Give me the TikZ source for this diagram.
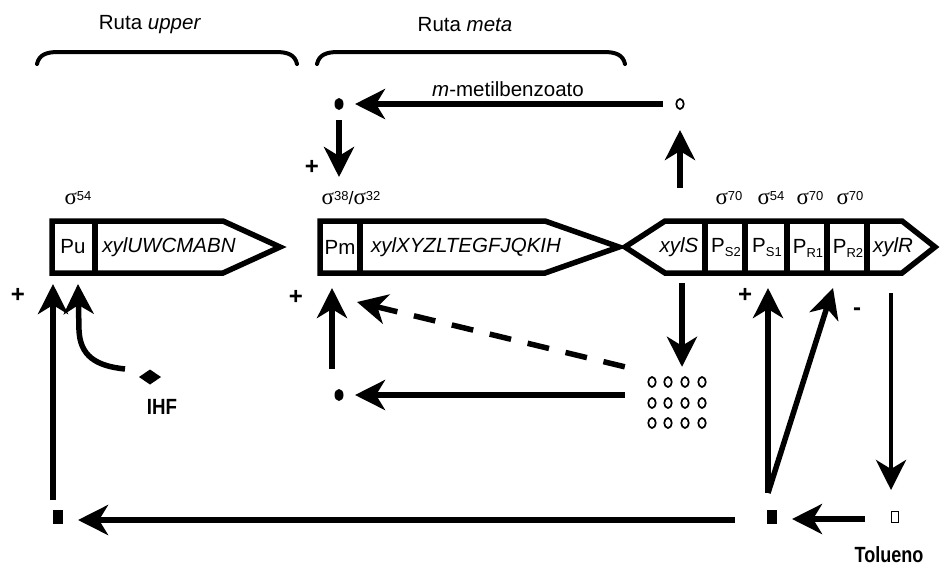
\documentclass[tikz,border=0pt]{standalone}
\usepackage{fontspec}
\setmainfont{Liberation Sans}
\newfontfamily\sigfont{Liberation Serif}
\usetikzlibrary{arrows.meta,calc,shapes.geometric}
\newcommand{\sigm}[1]{{\sigfont\fontsize{23}{23}\selectfont σ}\raisebox{4pt}{\fontsize{13}{13}\selectfont #1}}
\newcommand{\Psub}[1]{P\raisebox{-4pt}{\fontsize{13}{13}\selectfont #1}}
\begin{document}
\begin{tikzpicture}[x=1pt,y=-1pt,
  lbl/.style={inner sep=0pt, font=\fontsize{20.5}{24}\selectfont},
  sig/.style={inner sep=0pt, font=\fontsize{18}{20}\selectfont},
  sgn/.style={inner sep=0pt, font=\bfseries\fontsize{24}{24}\selectfont},
  bold/.style={inner sep=0pt, font=\bfseries\fontsize{22}{24}\selectfont},
  genebox/.style={line width=5.5pt, line join=miter},
  brace/.style={line width=4pt, line cap=round},
  arr/.style={line width=5.5pt, -{Stealth[length=30pt,width=30pt,inset=9pt]}},
  molfill/.style={ellipse, fill, inner sep=0pt, minimum width=9pt, minimum height=12pt},
  molopen/.style={ellipse, draw, line width=1.7pt, inner sep=0pt, minimum width=7.5pt, minimum height=10pt},
  sqfill/.style={fill, inner sep=0pt, minimum width=10pt, minimum height=14pt},
  sqopen/.style={draw, line width=1.7pt, inner sep=0pt, minimum width=7pt, minimum height=11pt}]
\useasboundingbox (0,0) rectangle (941,571);

% braces
\draw[brace] (37,64) .. controls (39,55) and (46,52) .. (58,52) -- (276,52) .. controls (288,52) and (295,55) .. (297,64);
\draw[brace] (317,64) .. controls (319,55) and (326,52) .. (338,52) -- (604,52) .. controls (616,52) and (623,55) .. (625,64);
\node[lbl] (rup) at (150,25) {Ruta \textit{upper}};
\node[lbl] (rmeta) at (465,25) {Ruta \textit{meta}};
\node[lbl] (mmb) at (508,89) {\textit{m}-metilbenzoato};

% gene boxes
\draw[genebox] (52,221) -- (223,221) -- (280,247) -- (223,273) -- (52,273) -- cycle;
\draw[genebox] (95,221) -- (95,273);
\draw[genebox] (320,221) -- (545,221) -- (619,247) -- (545,273) -- (320,273) -- cycle;
\draw[genebox] (360,221) -- (360,273);
\draw[genebox] (625,247) -- (665,221) -- (902,221) -- (935,247) -- (902,273) -- (665,273) -- cycle;
\foreach \xx in {705,745,787,827,867} \draw[genebox] (\xx,221) -- (\xx,273);

\node[lbl] (pu) at (73,247) {Pu};
\node[lbl] (upper) at (169,247) {\textit{xylUWCMABN}};
\node[lbl] (pm) at (340,247) {Pm};
\node[lbl] (meta) at (466,247) {\textit{xylXYZLTEGFJQKIH}};
\node[lbl] (xyls) at (679,247) {\textit{xylS}};
\node[lbl] (ps2) at (726,248) {\Psub{S2}};
\node[lbl] (ps1) at (767,248) {\Psub{S1}};
\node[lbl] (pr1) at (808,248) {\Psub{R1}};
\node[lbl] (pr2) at (848,248) {\Psub{R2}};
\node[lbl] (xylr) at (893,247) {\textit{xylR}};

% sigma labels
\node[sig] (s54a) at (78,198) {\sigm{54}};
\node[sig] (s38) at (351,198) {\sigm{38}/\sigm{32}};
\node[sig] (s70a) at (729,198) {\sigm{70}};
\node[sig] (s54b) at (771,198) {\sigm{54}};
\node[sig] (s70b) at (810,198) {\sigm{70}};
\node[sig] (s70c) at (850,198) {\sigm{70}};

% signs
\node[sgn] (p1) at (18,295) {+};
\node[sgn] (p2) at (296,297) {+};
\node[sgn] (p3) at (312,167) {+};
\node[sgn] (p4) at (745,295) {+};
\node[sgn] (m1) at (857,312) {-};

% molecules
\node[molfill] (d1) at (339,104) {};
\node[molopen] (o1) at (680,104) {};
\node[molfill] (d2) at (339,395) {};
\foreach \yy in {382,403,423} {
  \foreach \xx in {652,668,685,702} {
    \node[molopen] at (\xx,\yy) {};
  }
}
\node[inner sep=0pt, minimum width=104pt, minimum height=72pt] (grid) at (677,403) {};
\fill (139,377) -- (150,369.5) -- (161,377) -- (150,384.5) -- cycle;
\node[inner sep=0pt, minimum width=22pt, minimum height=15pt] (ihf) at (150,377) {};
\node[bold] (ihflbl) at (162,407) {\scalebox{0.85}[1]{IHF}};
\node[sqfill] (sq1) at (58,517) {};
\node[sqfill] (sq2) at (772,517) {};
\node[sqopen] (sq3) at (895,517) {};
\node[bold] (tol) at (889,555) {\scalebox{0.82}[1]{Tolueno}};

% attachment points on the genes
\coordinate (pu1) at (53,284);
\coordinate (pu2) at (78,284);
\coordinate (pm1) at (332,288);
\coordinate (pm2) at (357,302);
\coordinate (pmsig) at (339,177);
\coordinate (xylSt) at (680,188);
\coordinate (xylSb) at (682,283);
\coordinate (ps1b) at (768,288);
\coordinate (pr1b) at (833,288);
\coordinate (xylRb) at (891,293);

% connectors
\draw[arr] ($(o1)+(-17,0)$) -- ($(d1)+(16,0)$);
\draw[arr] ($(d1)+(0,16)$) -- (pmsig);
\draw[arr] (xylSt) -- ($(o1)+(0,26)$);
\draw[arr] (xylSb) -- (xylSb |- grid.north);
\draw[arr] (grid.west |- d2) -- ($(d2)+(16,0)$);
\draw[arr, dash pattern=on 22pt off 17pt] (grid.north west) -- (pm2);
\draw[arr] ($(d2)+(-7,-26)$) -- (pm1);
\draw[arr] ($(ihf)+(-25,-8)$) .. controls (96,366) and (80,356) .. (79,330) -- (pu2);
\draw[arr] ($(sq1)+(-5,-17)$) -- (pu1);
\draw[arr] ($(sq2)+(-37,3)$) -- ($(sq1)+(20,3)$);
\draw[arr] ($(sq3)+(-30,2)$) -- ($(sq2)+(20,2)$);
\draw[arr, line width=4.5pt] (xylRb) -- ($(sq3)+(-4,-27)$);
\draw[arr] ($(sq2)+(-4,-24)$) -- (ps1b);
\draw[arr] ($(sq2)+(-4,-24)$) -- (pr1b);
\end{tikzpicture}
\end{document}
